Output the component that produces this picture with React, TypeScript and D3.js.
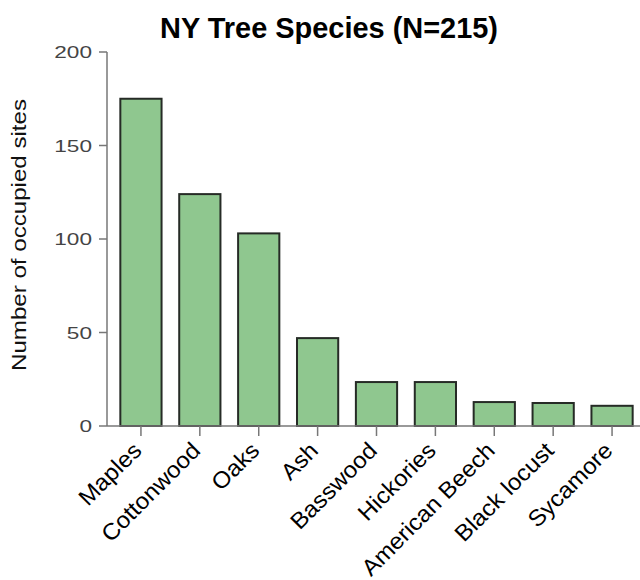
import React from "react";
import * as d3 from "d3";

const categories = ["Maples", "Cottonwood", "Oaks", "Ash", "Basswood", "Hickories", "American Beech", "Black locust", "Sycamore"];
const values = [175, 124, 103, 47, 23.5, 23.5, 12.8, 12.3, 10.8];
const yTicks = [0, 50, 100, 150, 200];
const title = "NY Tree Species (N=215)";
const yLabel = "Number of occupied sites";

export default function App() {
  const W = 640, H = 580;
  const x = d3.scaleBand<string>().domain(categories).range([111.5, 641.5]).paddingInner(0.3).paddingOuter(0.15);
  const y = d3.scaleLinear().domain([0, 200]).range([426, 52]);
  const axisX = 107;
  const font = "'Liberation Sans', Arial, Helvetica, sans-serif";
  return (
    <svg width={W} height={H} style={{ position: "absolute", left: 0, top: 0, background: "#fff" }}>
      <text x={329} y={38} textAnchor="middle" fontFamily={font} fontWeight="bold" fontSize={30} textLength={338} lengthAdjust="spacingAndGlyphs" fill="#000">{title}</text>
      <text transform={`translate(26,235) rotate(-90)`} textAnchor="middle" fontFamily={font} fontSize={20} textLength={272} lengthAdjust="spacingAndGlyphs" fill="#111">{yLabel}</text>
      {/* y axis */}
      <line x1={axisX} x2={axisX} y1={y(200)} y2={y(0)} stroke="#777" strokeWidth={1.5} />
      {yTicks.map((t) => (
        <g key={t}>
          <line x1={axisX - 8} x2={axisX} y1={y(t)} y2={y(t)} stroke="#777" strokeWidth={1.5} />
          <text transform={`translate(${axisX - 15},${y(t)}) scale(1.33,1)`} dy="0.36em" textAnchor="end" fontFamily={font} fontSize={17} fill="#444">{t}</text>
        </g>
      ))}
      {/* bars */}
      {categories.map((c, i) => (
        <rect key={c} x={x(c)!} y={y(values[i])} width={x.bandwidth()} height={y(0) - y(values[i])} fill="#8fc78f" stroke="#262b26" strokeWidth={2} />
      ))}
      {/* x axis */}
      <line x1={axisX} x2={640} y1={y(0)} y2={y(0)} stroke="#777" strokeWidth={1.5} />
      {categories.map((c) => {
        const cx = x(c)! + x.bandwidth() / 2;
        return (
          <g key={c}>
            <line x1={cx} x2={cx} y1={y(0)} y2={y(0) + 10} stroke="#777" strokeWidth={1.5} />
            <text transform={`translate(${cx + 2},${y(0) + 26}) rotate(-45) scale(1.05,1)`} textAnchor="end" fontFamily={font} fontSize={23} fill="#000">{c}</text>
          </g>
        );
      })}
    </svg>
  );
}
